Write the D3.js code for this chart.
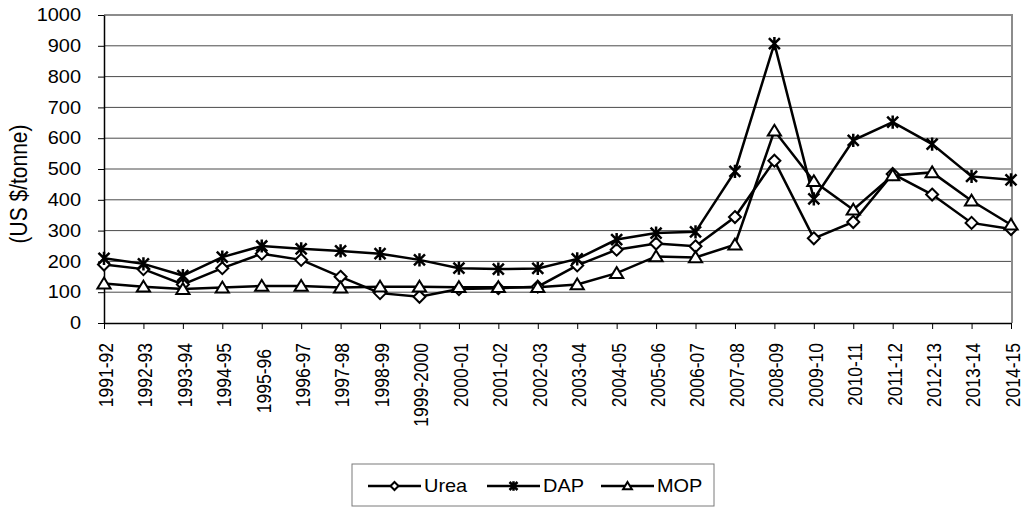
<!DOCTYPE html>
<html>
<head>
<meta charset="utf-8">
<script src="https://cdn.jsdelivr.net/npm/d3@7"></script>
<style>
  html, body { margin: 0; padding: 0; background: #fff; }
  svg { display: block; font-family: "Liberation Sans", Arial, sans-serif; }
</style>
</head>
<body>
<svg id="chart" width="1028" height="508"></svg>
<script>
// Fertilizer prices by financial year (US $/tonne)
const categories = ["1991-92","1992-93","1993-94","1994-95","1995-96","1996-97","1997-98",
  "1998-99","1999-2000","2000-01","2001-02","2002-03","2003-04","2004-05","2005-06",
  "2006-07","2007-08","2008-09","2009-10","2010-11","2011-12","2012-13","2013-14","2014-15"];
const urea = [190,175,125,178,225,205,150,97,85,110,113,118,187,238,258,249,344,527,275,328,484,417,325,305];
const dap  = [210,192,154,214,250,241,234,225,205,178,175,177,208,271,292,296,492,907,403,593,652,581,476,465];
const mop  = [128,118,110,115,120,120,115,118,118,116,116,116,125,162,216,213,254,624,460,368,479,489,397,319];
const yTicks = [0,100,200,300,400,500,600,700,800,900,1000];
const seriesNames = ["Urea","DAP","MOP"];

const svg = d3.select("#chart");
const plotLeft = 104, plotRight = 1011, plotTop = 15, plotBottom = 323;
const fontSize = 17.5;
const widen = 1.14;   // text is set slightly wide

const x = d3.scalePoint().domain(categories).range([plotLeft, plotRight]);
const y = d3.scaleLinear().domain([0, 1000]).range([plotBottom, plotTop]);

// gridlines
svg.append("g").selectAll("line").data(yTicks.filter(t => t > 0 && t < 1000)).join("line")
  .attr("x1", plotLeft).attr("x2", plotRight + 1)
  .attr("y1", d => y(d)).attr("y2", d => y(d))
  .attr("stroke", "#4a4a4a").attr("stroke-width", 1);

// plot frame (top and right)
svg.append("path")
  .attr("d", `M${plotLeft},${y(1000)}H${plotRight + 1}V${plotBottom}`)
  .attr("fill", "none").attr("stroke", "#8c8c8c").attr("stroke-width", 2);

// y axis
const yAxis = svg.append("g").attr("transform", `translate(${plotLeft},0)`)
  .call(d3.axisLeft(y).tickValues(yTicks).tickFormat(d3.format("d"))
    .tickSize(6).tickPadding(17).tickSizeOuter(0));
yAxis.select(".domain").attr("stroke", "#000").attr("stroke-width", 1.5);
yAxis.selectAll(".tick line").attr("stroke", "#000");
yAxis.selectAll(".tick text").attr("font-size", fontSize).attr("fill", "#000")
  .attr("font-family", "Liberation Sans, Arial, sans-serif")
  .attr("x", 0).attr("transform", `translate(-23,0) scale(${widen},1)`);

// x axis with vertical category labels
const xAxis = svg.append("g").attr("transform", `translate(0,${plotBottom})`)
  .call(d3.axisBottom(x).tickSize(6).tickSizeOuter(0));
xAxis.select(".domain").attr("stroke", "#000").attr("stroke-width", 1.5);
xAxis.selectAll(".tick line").attr("stroke", "#000");
xAxis.selectAll(".tick text")
  .attr("font-size", fontSize).attr("fill", "#000")
  .attr("font-family", "Liberation Sans, Arial, sans-serif")
  .attr("text-anchor", "end")
  .attr("transform", (d, i) => `translate(0,${i === 4 ? 26 : 20}) scale(${widen},1) rotate(-90)`)
  .attr("x", 0).attr("y", 0).attr("dy", "0.42em");

// y axis title
svg.append("text")
  .attr("transform", `translate(19,184) scale(${widen},1) rotate(-90)`)
  .attr("text-anchor", "middle").attr("dy", "0.35em")
  .attr("font-size", 21).text("(US $/tonne)");

// marker shapes
function drawMarker(g, type, size) {
  const s = size;
  if (type === "diamond") {
    g.append("path").attr("d", `M0,${-s}L${s},0L0,${s}L${-s},0Z`)
      .attr("fill", "#fff").attr("stroke", "#000").attr("stroke-width", 2);
  } else if (type === "triangle") {
    g.append("path").attr("d", `M0,${-s}L${s * 1.1},${s * 0.8}L${-s * 1.1},${s * 0.8}Z`)
      .attr("fill", "#fff").attr("stroke", "#000").attr("stroke-width", 2);
  } else {
    g.append("path").attr("d", `M${-s},${-s}L${s},${s}M${-s},${s}L${s},${-s}M0,${-s * 1.2}V${s * 1.2}`)
      .attr("fill", "none").attr("stroke", "#000").attr("stroke-width", 2.5);
  }
}

const series = [
  { name: seriesNames[0], values: urea, marker: "diamond" },
  { name: seriesNames[1], values: dap, marker: "star" },
  { name: seriesNames[2], values: mop, marker: "triangle" }
];

const line = d3.line().x((d, i) => x(categories[i])).y(d => y(d));

series.forEach(s => {
  svg.append("path").datum(s.values).attr("d", line)
    .attr("fill", "none").attr("stroke", "#000").attr("stroke-width", 2.5)
    .attr("stroke-linejoin", "miter");
});
series.forEach(s => {
  svg.append("g").selectAll("g").data(s.values).join("g")
    .attr("transform", (d, i) => `translate(${x(categories[i])},${y(d)})`)
    .each(function () { drawMarker(d3.select(this), s.marker, s.marker === "star" ? 5.5 : 6); });
});

// legend
const legend = svg.append("g");
legend.append("rect").attr("x", 352).attr("y", 464).attr("width", 362).attr("height", 42)
  .attr("fill", "#fff").attr("stroke", "#7a7a7a").attr("stroke-width", 1);
const legendItems = [
  { lx: 368, name: seriesNames[0], marker: "diamond" },
  { lx: 487, name: seriesNames[1], marker: "star" },
  { lx: 601, name: seriesNames[2], marker: "triangle" }
];
legendItems.forEach(it => {
  const g = legend.append("g").attr("transform", `translate(${it.lx},486)`);
  g.append("line").attr("x1", 0).attr("x2", 53).attr("stroke", "#000").attr("stroke-width", 2.5);
  const m = g.append("g").attr("transform", "translate(26.5,0)");
  drawMarker(m, it.marker, 4);
  g.append("text").attr("transform", `translate(56,0) scale(${widen},1)`)
    .attr("dy", "0.36em").attr("font-size", fontSize).text(it.name);
});
</script>
</body>
</html>
